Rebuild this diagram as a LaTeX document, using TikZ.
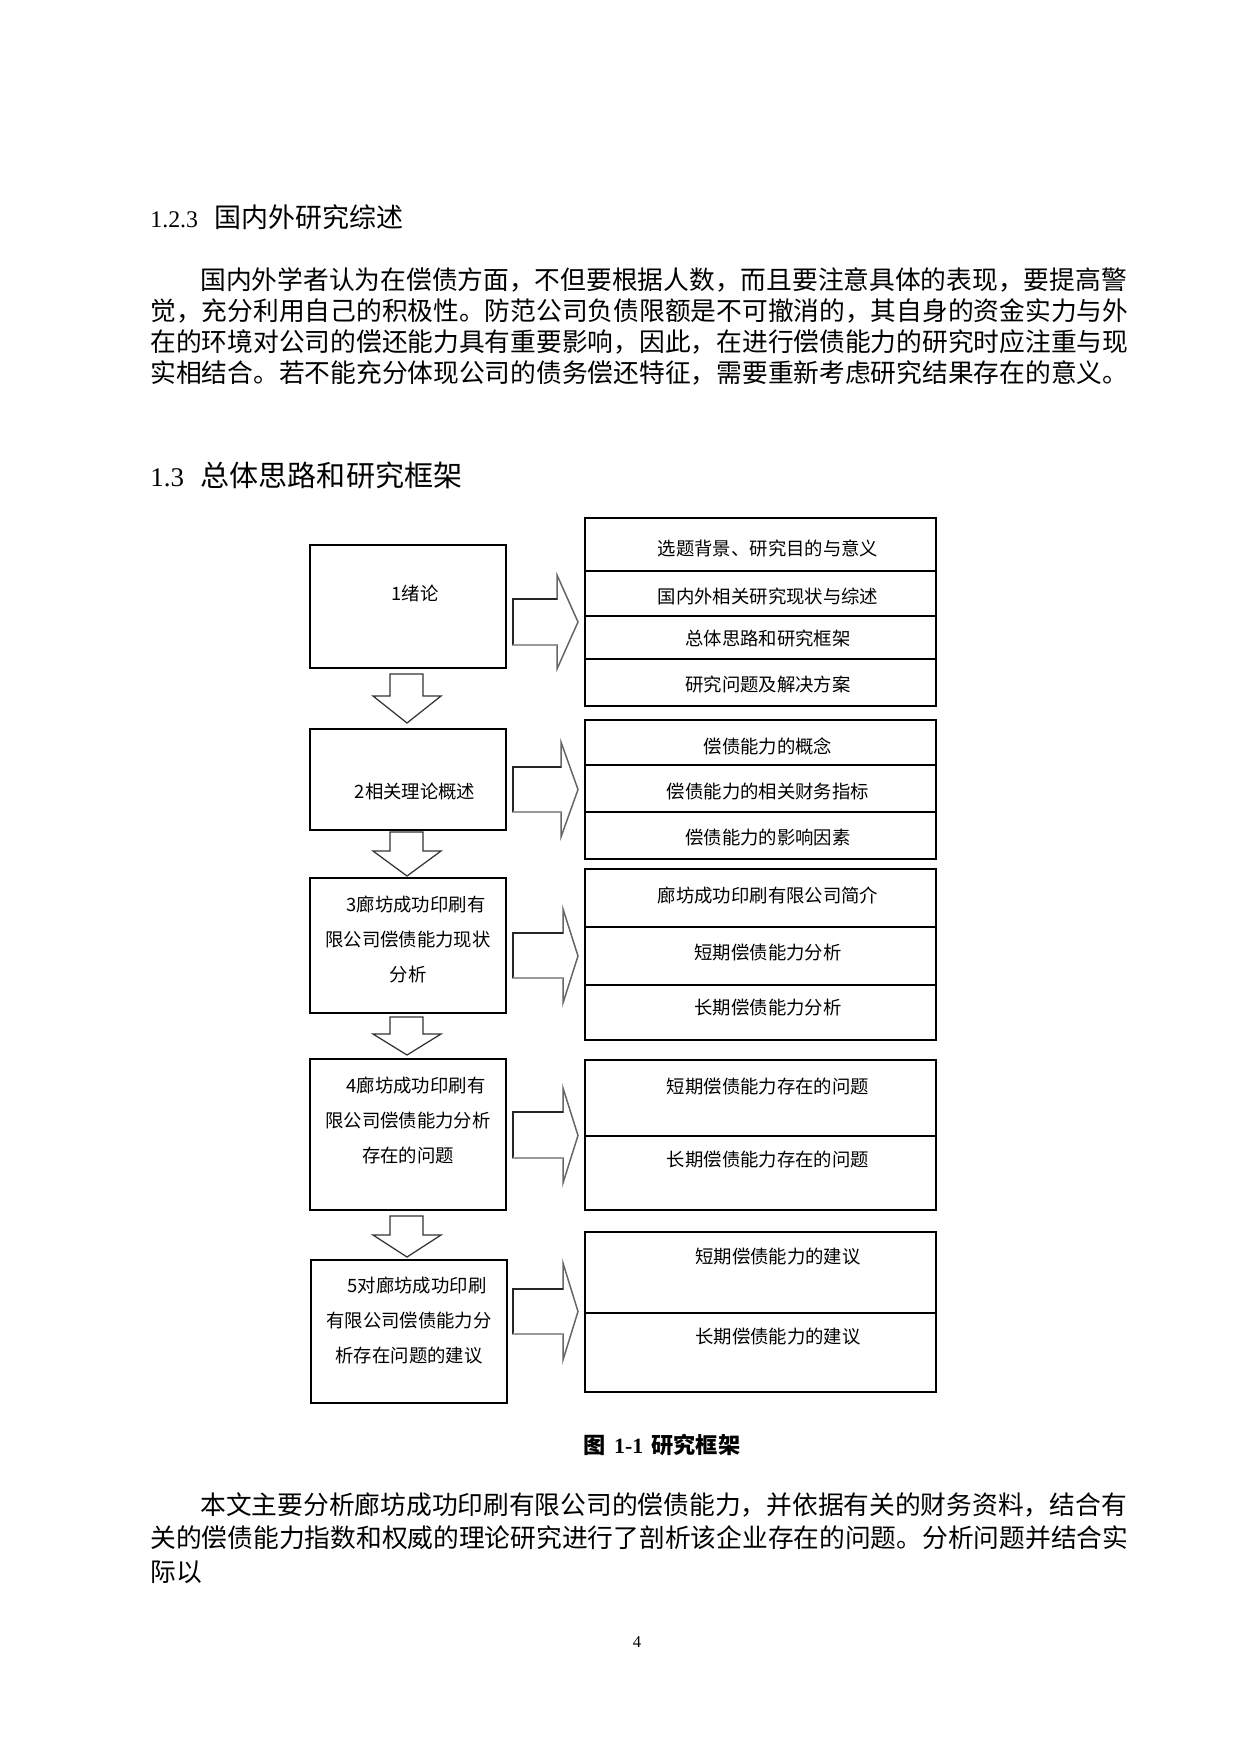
\documentclass[tikz,border=0pt]{standalone}
\usepackage{fontspec}
\setmainfont{Liberation Serif}
\newfontfamily\cjk{Noto Sans CJK SC}
\newdimen\pxu \pxu=0.48185pt
\def\spreadchars#1{\spreadA#1\relax}
\def\spreadA#1{#1\spreadB}
\def\spreadB#1{\ifx#1\relax\else\hfil#1\expandafter\spreadB\fi}
\newcommand{\jline}[2]{\hbox to #1\pxu{\spreadchars{#2}}}
\newcommand{\rblock}[7]{%
  \filldraw[fill=white, draw=black!60, line width=0.72pt, line join=miter]
    (#1,#4) -- (#2,#4) -- (#2,#6) -- (#3,{(#6+#7)/2}) -- (#2,#7) -- (#2,#5) -- (#1,#5) -- cycle;
  \draw[black!85, line width=0.8pt] (#2,#4) -- (#1,#4) -- (#1,#5);
  \draw[black!40, line width=0.8pt] (#1,#5) -- (#2,#5);
}
\newcommand{\dblock}[3]{%
  \filldraw[fill=white, draw=black!80, line width=0.6pt, line join=miter]
    (390,#1) -- (423,#1) -- (423,#2) -- (441,#2) -- (407,#3) -- (373,#2) -- (390,#2) -- cycle;
}
\tikzset{
  body/.style={anchor=west, inner sep=0pt, font=\cjk\fontsize{12.4}{15}\selectfont},
  dtxt/.style={inner sep=0pt, font=\cjk\fontsize{8.85}{16.86}\selectfont, align=center},
  lbox/.style={draw=black, line width=0.96pt},
  rbox/.style={draw=black, line width=0.87pt},
  divA/.style={draw=black, line width=0.96pt},
  divB/.style={draw=black, line width=0.5pt},
}
\begin{document}
\begin{tikzpicture}[x=0.48185pt, y=-0.48185pt]
\fill[white] (0,0) rectangle (1240,1754);
\useasboundingbox (0,0) rectangle (1240,1754);

% headings and paragraph
\node[anchor=base west, inner sep=0pt] (h1) at (150,227)
  {\fontsize{11.5}{14}\selectfont 1.2.3\hspace{7.7pt}{\cjk\fontsize{13}{16}\selectfont 国内外研究综述}};
\node[body] (p1a) at (200,280) {\jline{926}{国内外学者认为在偿债方面，不但要根据人数，而且要注意具体的表现，要提高警}};
\node[body] (p1b) at (150,311) {\jline{976}{觉，充分利用自己的积极性。防范公司负债限额是不可撤消的，其自身的资金实力与外}};
\node[body] (p1c) at (150,342) {\jline{976}{在的环境对公司的偿还能力具有重要影响，因此，在进行偿债能力的研究时应注重与现}};
\node[body] (p1d) at (150,373) {实相结合。若不能充分体现公司的债务偿还特征，需要重新考虑研究结果存在的意义。};
\node[anchor=base west, inner sep=0pt] (h2) at (150,486)
  {\fontsize{13}{16}\selectfont 1.3\hspace{8pt}{\cjk\fontsize{14}{17}\selectfont 总体思路和研究框架}};

% left boxes
\draw[lbox] (310,545) rectangle (506,668);
\draw[lbox] (310,729) rectangle (506,830);
\draw[lbox] (310,878) rectangle (506,1013);
\draw[lbox] (310,1059) rectangle (506,1210);
\draw[lbox] (311,1260) rectangle (507,1403);
\node[dtxt] (t1) at (415,593) {1绪论};
\node[dtxt] (t2) at (415,792) {2相关理论概述};
\node[dtxt] (t3) at (408,939) {\hspace*{7.7pt}3廊坊成功印刷有\\限公司偿债能力现状\\分析};
\node[dtxt] (t4) at (408,1120) {\hspace*{7.7pt}4廊坊成功印刷有\\限公司偿债能力分析\\存在的问题};
\node[dtxt] (t5) at (409,1321) {\hspace*{7.7pt}5对廊坊成功印刷\\有限公司偿债能力分\\析存在问题的建议};

% down block arrows
\dblock{674}{696}{723}
\dblock{832}{851}{876}
\dblock{1017}{1034}{1055}
\dblock{1216}{1235}{1257}

% right block arrows
\rblock{513}{557}{578}{599}{645}{575}{669}
\rblock{513}{561}{578}{767}{812}{742}{837}
\rblock{513}{563}{578}{933}{978}{909}{1003}
\rblock{513}{563}{578}{1112}{1158}{1088}{1183}
\rblock{513}{563}{578}{1289}{1334}{1263}{1360}

% right boxes
\draw[rbox] (585,518) rectangle (936,706);
\draw[divA] (585,571) -- (936,571);
\draw[divA] (585,616) -- (936,616);
\draw[divB] (585,659) -- (936,659);
\node[dtxt] (r11) at (768,548) {选题背景、研究目的与意义};
\node[dtxt] (r12) at (768,596) {国内外相关研究现状与综述};
\node[dtxt] (r13) at (768,638) {总体思路和研究框架};
\node[dtxt] (r14) at (768,684) {研究问题及解决方案};

\draw[rbox] (585,720) rectangle (936,859);
\draw[divB] (585,765) -- (936,765);
\draw[divA] (585,812) -- (936,812);
\node[dtxt] (r21) at (768,746) {偿债能力的概念};
\node[dtxt] (r22) at (768,792) {偿债能力的相关财务指标};
\node[dtxt] (r23) at (768,838) {偿债能力的影响因素};

\draw[rbox] (585,869) rectangle (936,1040);
\draw[divB] (585,927) -- (936,927);
\draw[divB] (585,985) -- (936,985);
\node[dtxt] (r31) at (768,896) {廊坊成功印刷有限公司简介};
\node[dtxt] (r32) at (768,953) {短期偿债能力分析};
\node[dtxt] (r33) at (768,1008) {长期偿债能力分析};

\draw[rbox] (585,1060) rectangle (936,1210);
\draw[divA] (585,1136) -- (936,1136);
\node[dtxt] (r41) at (768,1087) {短期偿债能力存在的问题};
\node[dtxt] (r42) at (768,1160) {长期偿债能力存在的问题};

\draw[rbox] (585,1232) rectangle (936,1392);
\draw[divB] (585,1313) -- (936,1313);
\node[dtxt] (r51) at (778,1257) {短期偿债能力的建议};
\node[dtxt] (r52) at (778,1337) {长期偿债能力的建议};

% caption
\node[anchor=base, inner sep=0pt] (cap) at (662,1453)
  {\bfseries{\cjk\fontsize{10.7}{13}\selectfont 图}\hspace{4pt}\fontsize{10.5}{13}\selectfont 1-1\hspace{4pt}{\cjk\fontsize{10.7}{13}\selectfont 研究框架}};

% second paragraph
\node[body] (p2a) at (200,1505) {\jline{926}{本文主要分析廊坊成功印刷有限公司的偿债能力，并依据有关的财务资料，结合有}};
\node[body] (p2b) at (150,1538) {\jline{976}{关的偿债能力指数和权威的理论研究进行了剖析该企业存在的问题。分析问题并结合实}};
\node[body] (p2c) at (150,1572) {际以};

\node[inner sep=0pt, font=\fontsize{8}{10}\selectfont] (pg) at (637,1642) {4};
\end{tikzpicture}
\end{document}
